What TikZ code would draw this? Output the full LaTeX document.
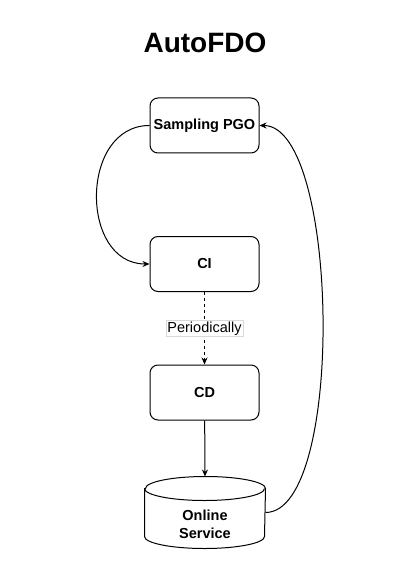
\documentclass[tikz,border=0pt]{standalone}
\usepackage{fontspec}
\setmainfont{Liberation Sans}
\usetikzlibrary{arrows.meta,positioning}

\begin{document}
\begin{tikzpicture}[x=1pt,y=-1pt,line width=1pt,
  box/.style={draw,rounded corners=8pt,minimum width=109pt,minimum height=55pt,
              font=\bfseries\fontsize{14.5}{17}\selectfont},
  store/.style={minimum width=120pt,minimum height=71pt,inner sep=0pt},
  storetext/.style={align=center,font=\bfseries\fontsize{14.5}{18}\selectfont},
  dbcap/.style={x radius=60pt,y radius=12pt},
  arr/.style={-{Stealth[length=7pt,width=6pt]}},
  lbl/.style={solid,fill=white,draw=black!15,line width=0.6pt,inner sep=1.5pt,
              font=\fontsize{14.5}{17}\selectfont},
]
\useasboundingbox (0,0) rectangle (412,572);
\node[font=\bfseries\fontsize{28}{32}\selectfont,anchor=base] (title) at (205,53) {AutoFDO};

\node[box] (pgo) at (204.5,125.5) {Sampling PGO};
\node[box] (ci) at (204.5,264) {CI};
\node[box] (cd) at (204.5,392.5) {CD};

% database
\node[store,label={[storetext,yshift=-11.5pt]center:Online\\Service}] (db) at (205,512.5) {};
\draw ([yshift=-12pt]db.north west) -- ([yshift=12pt]db.south west)
  arc[start angle=180,end angle=360,dbcap] -- ([yshift=-12pt]db.north east)
  arc[start angle=0,end angle=180,dbcap] -- cycle;
\draw ([yshift=-12pt]db.north west) arc[start angle=180,end angle=360,dbcap];

% flow
\draw[arr] (pgo.west) .. controls +(-70,0) and +(-70,0) .. (ci.west);
\draw[arr,dash pattern=on 3pt off 3pt] (ci) -- node[lbl] {Periodically} (cd);
\draw[arr] (cd) -- (db.north);
\draw[arr] (db.east) .. controls +(80,0) and +(80,0) .. (pgo.east);
\end{tikzpicture}
\end{document}
